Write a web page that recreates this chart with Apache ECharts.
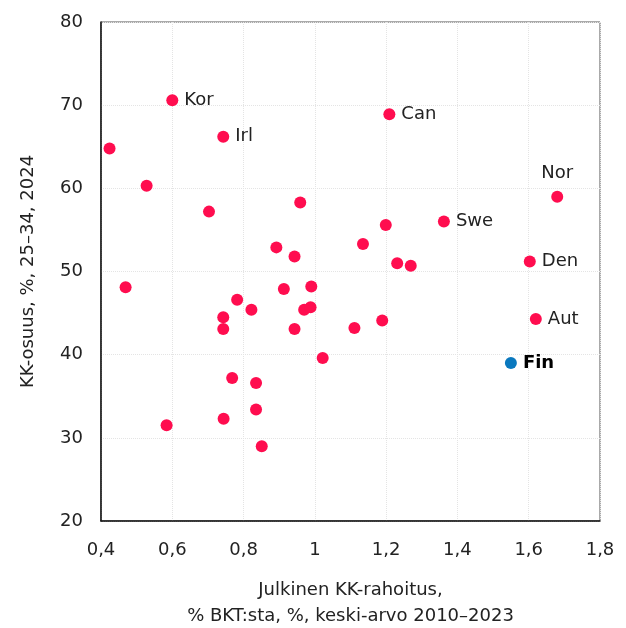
<!DOCTYPE html>
<html>
<head>
<meta charset="utf-8">
<script src="https://cdn.jsdelivr.net/npm/echarts@6/dist/echarts.min.js"></script>
<style>
  html, body { margin: 0; padding: 0; background: #fff; }
  #chart { width: 626px; height: 628px; }
</style>
</head>
<body>
<div id="chart"></div>
<script>
// public higher-education funding (% of GDP) vs tertiary share of 25-34 year olds
var labels = ['Kor', 'Irl', 'Can', 'Swe', 'Nor', 'Den', 'Aut', '', '', '', '', '', '', '', '', '', '', '', '', '', '', '', '', '', '', '', '', '', '', '', '', '', '', '', '', ''];
var funding = [0.600, 0.743, 1.209, 1.362, 1.680, 1.603, 1.620, 0.424, 0.528, 0.703, 0.959, 0.892, 0.943, 0.469, 0.913, 0.990, 0.782, 0.822, 0.970, 0.988, 0.743, 0.743, 0.943, 1.022, 0.768, 0.835, 0.835, 0.744, 0.584, 0.851, 1.111, 1.189, 1.199, 1.135, 1.231, 1.269];
var share = [70.6, 66.2, 68.9, 56.0, 59.0, 51.2, 44.3, 64.8, 60.3, 57.2, 58.3, 52.9, 51.8, 48.1, 47.9, 48.2, 46.6, 45.4, 45.4, 45.7, 44.5, 43.1, 43.1, 39.6, 37.2, 36.6, 33.4, 32.3, 31.5, 29.0, 43.2, 44.1, 55.6, 53.3, 51.0, 50.7];
var finland = { name: 'Fin', funding: 1.550, share: 39.0 };

var xTicks = { min: 0.4, max: 1.8, interval: 0.2 };
var yTicks = { min: 20, max: 80, interval: 10 };

var font = '"DejaVu Sans", sans-serif';

var others = funding.map(function (x, i) {
  var item = { value: [x, share[i]], name: labels[i] };
  if (labels[i] === 'Nor') {
    item.label = { position: 'top', distance: 8 };
  }
  return item;
});

var chart = echarts.init(document.getElementById('chart'));
chart.setOption({
  animation: false,
  grid: {
    left: 101, top: 22, right: 26, bottom: 107,
    containLabel: false, outerBoundsMode: 'none',
    show: true, borderColor: '#555', borderWidth: 1
  },
  xAxis: {
    type: 'value',
    min: xTicks.min, max: xTicks.max, interval: xTicks.interval,
    axisLine: { lineStyle: { color: '#111', width: 1.5 } },
    axisTick: { show: false },
    splitLine: { lineStyle: { color: '#e4e4e4', type: 'dotted' } },
    axisLabel: {
      margin: 20, color: '#222', fontSize: 18, fontFamily: font,
      formatter: function (v) { return String(+v.toFixed(1)).replace('.', ','); }
    },
    name: 'Julkinen KK-rahoitus,\n% BKT:sta, %, keski-arvo 2010\u20132023',
    nameLocation: 'middle',
    nameGap: 56,
    nameTextStyle: { color: '#222', fontSize: 18, fontFamily: font, lineHeight: 26 }
  },
  yAxis: {
    type: 'value',
    min: yTicks.min, max: yTicks.max, interval: yTicks.interval,
    axisLine: { lineStyle: { color: '#111', width: 1.5 } },
    axisTick: { show: false },
    splitLine: { lineStyle: { color: '#e4e4e4', type: 'dotted' } },
    axisLabel: { margin: 18, color: '#222', fontSize: 18, fontFamily: font },
    name: 'KK-osuus, %, 25\u201334, 2024',
    nameLocation: 'middle',
    nameGap: 64,
    nameTextStyle: { color: '#222', fontSize: 18, fontFamily: font }
  },
  series: [
    {
      type: 'scatter',
      symbolSize: 12,
      itemStyle: { color: '#FF0D4F', opacity: 1 },
      label: {
        show: true, position: 'right', distance: 6,
        color: '#222', fontSize: 18, fontFamily: font,
        formatter: function (p) { return p.name; }
      },
      data: others
    },
    {
      type: 'scatter',
      symbolSize: 12,
      itemStyle: { color: '#0A78BE', opacity: 1 },
      label: {
        show: true, position: 'right', distance: 6,
        color: '#000', fontSize: 18, fontWeight: 'bold', fontFamily: font,
        formatter: function (p) { return p.name; }
      },
      data: [{ value: [finland.funding, finland.share], name: finland.name }]
    }
  ]
});
</script>
</body>
</html>
